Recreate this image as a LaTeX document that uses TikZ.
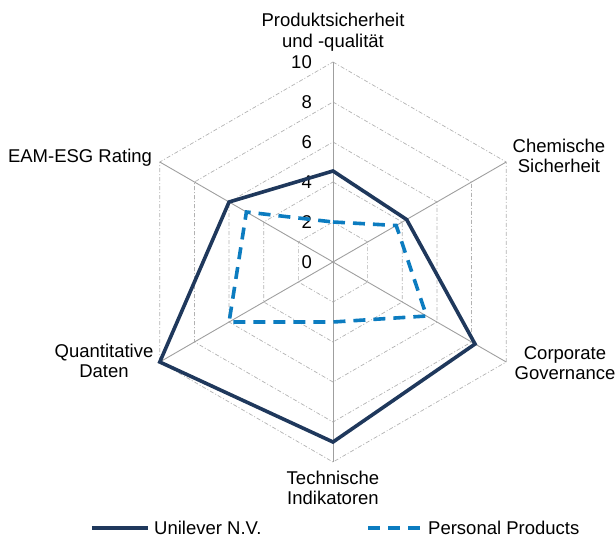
\documentclass[tikz,border=0pt]{standalone}
\usepackage{fontspec}
\setmainfont{Liberation Sans}
\usepackage{tikz}
\usetikzlibrary{positioning}

\definecolor{uniblue}{RGB}{31,56,92}
\definecolor{ppblue}{RGB}{12,124,192}

\tikzset{
  axisline/.style={gray!75, line width=0.9pt},
  ringline/.style={gray!60, line width=0.7pt, dash pattern=on 4pt off 2pt on 1pt off 2pt},
  unistyle/.style={uniblue, line width=3.6pt},
  ppstyle/.style={ppblue, line width=3.6pt, dash pattern=on 12pt off 8pt},
  lbl/.style={align=center, inner sep=0pt, font=\fontsize{18.5}{20.5}\selectfont}
}

\begin{document}
\begin{tikzpicture}[x=1pt,y=1pt]
   \useasboundingbox (-333,-276) rectangle (282,262);
   % rings 2..10
   \foreach \r in {2,4,...,10}
      \draw[ringline] (90:{20*\r}) -- (30:{20*\r}) -- (-30:{20*\r}) -- (-90:{20*\r}) -- (-150:{20*\r}) -- (150:{20*\r}) -- cycle;
   % axes
   \foreach \a in {90,30,-30,-90,-150,150}
      \draw[axisline] (0,0) -- (\a:200);
   % scale
   \foreach \r in {0,2,...,10}
      \node[lbl, anchor=east] (tick\r) at (-21,{20*\r}) {\r};
   % categories
   \node[lbl] (prod) at (0,230) {Produktsicherheit\\und -qualit\"at};
   \node[lbl] (chem) at (226,106) {Chemische\\Sicherheit};
   \node[lbl] (corp) at (232,-101) {Corporate\\Governance};
   \node[lbl] (tech) at (0,-226) {Technische\\Indikatoren};
   \node[lbl] (quant) at (-229,-99) {Quantitative\\Daten};
   \node[lbl] (eam) at (-253,104) {EAM-ESG Rating};
   % data
   \draw[ppstyle] (90:40) -- (30:73) -- (-30:108) -- (-90:60) -- (-150:120) -- (150:100) -- cycle;
   \draw[unistyle] (90:91) -- (30:85) -- (-30:164) -- (-90:180) -- (-150:200) -- (150:120) -- cycle;
   % legend
   \coordinate (uniA) at (-241,-266);
   \coordinate (uniB) at (-185,-266);
   \draw[unistyle] (uniA) -- (uniB);
   \node[lbl, right=6pt of uniB] (unitext) {Unilever N.V.};
   \coordinate (ppA) at (35,-266);
   \coordinate (ppB) at (89,-266);
   \draw[ppstyle] (ppA) -- (ppB);
   \node[lbl, right=6pt of ppB] (pptext) {Personal Products};
\end{tikzpicture}
\end{document}
